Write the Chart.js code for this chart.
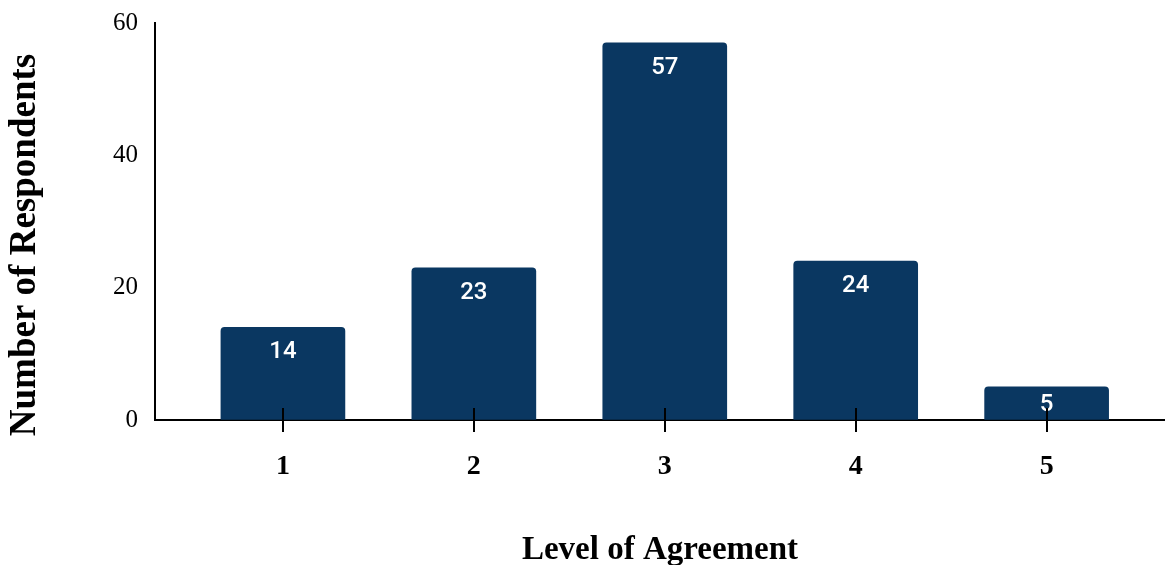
<!DOCTYPE html>
<html>
<head>
<meta charset="utf-8">
<script src="https://cdn.jsdelivr.net/npm/chart.js@4/dist/chart.umd.min.js"></script>
<style>
	html, body { margin: 0; padding: 0; background: white; }
	#wrap { width: 1165px; height: 565px; position: relative; }
</style>
</head>
<body>
<div id="wrap"><canvas id="myChart"></canvas></div>
<script>
// DATA
// ================================================================
var levels = [1, 2, 3, 4, 5];
var respondents = [14, 23, 57, 24, 5];
var yTicks = [0, 20, 40, 60];

var xTitle = 'Level of Agreement';
var yTitle = 'Number of Respondents';
var barColor = '#0a3761';


// Plugins
// ================================================================
// white count printed inside the top of each bar
var barValues = {
	id: 'barValues',
	afterDatasetsDraw: function (chart) {
		var ctx = chart.ctx;
		var meta = chart.getDatasetMeta(0);
		ctx.save();
		ctx.fillStyle = 'white';
		ctx.font = '500 24px Roboto';
		ctx.textAlign = 'center';
		ctx.textBaseline = 'middle';
		meta.data.forEach(function (bar, i) {
			var y = Math.min(bar.y + 25, (bar.y + bar.base) / 2 + 2);
			ctx.fillText(respondents[i], bar.x, y);
		});
		ctx.restore();
	}
};

// tick marks that cross the x axis line
var crossTicks = {
	id: 'crossTicks',
	afterDatasetsDraw: function (chart) {
		var ctx = chart.ctx;
		var x = chart.scales.x;
		var base = chart.chartArea.bottom;
		ctx.save();
		ctx.strokeStyle = 'black';
		ctx.lineWidth = 2;
		levels.forEach(function (v) {
			var px = Math.round(x.getPixelForValue(v));
			ctx.beginPath();
			ctx.moveTo(px, base - 12);
			ctx.lineTo(px, base + 12);
			ctx.stroke();
		});
		ctx.restore();
	}
};

// rotated y title, sitting a bit lower than the axis centre
var yAxisTitle = {
	id: 'yAxisTitle',
	afterDraw: function (chart) {
		var ctx = chart.ctx;
		ctx.save();
		ctx.translate(25, 245);
		ctx.rotate(-Math.PI / 2);
		ctx.fillStyle = 'black';
		ctx.font = 'bold 37px "Liberation Serif"';
		ctx.textAlign = 'center';
		ctx.textBaseline = 'middle';
		ctx.fillText(yTitle, 0, 0);
		ctx.restore();
	}
};


// OPTIONS
// ================================================================
var options = {
	responsive: true,
	maintainAspectRatio: false,
	animation: false,
	layout: { padding: { top: 23, left: 0, right: 0, bottom: 0 } },
	plugins: {
		legend: { display: false },
		tooltip: { enabled: false }
	},

	scales: {
		x: {
			type: 'linear',
			offset: false,
			min: 0.33,
			max: 5.62,
			afterBuildTicks: function (axis) {
				axis.ticks = levels.map(function (v) { return { value: v }; });
			},
			afterFit: function (axis) { axis.height = 145; },
			ticks: {
				padding: 30,
				color: 'black',
				font: { family: 'Liberation Serif', weight: 'bold', size: 28 }
			},
			grid: { drawOnChartArea: false, drawTicks: false },
			border: { color: 'black', width: 2 },
			title: {
				display: true,
				text: xTitle,
				color: 'black',
				padding: 0,
				font: { family: 'Liberation Serif', weight: 'bold', size: 33, lineHeight: 0.9 }
			}
		},

		y: {
			min: 0,
			max: 60,
			afterBuildTicks: function (axis) {
				axis.ticks = yTicks.map(function (v) { return { value: v }; });
			},
			afterFit: function (axis) {
				axis.width = 155;
				axis.paddingTop = 0;
				axis.paddingBottom = 0;
			},
			ticks: {
				padding: 17,
				color: 'black',
				font: { family: 'Liberation Serif', size: 25 }
			},
			grid: { drawOnChartArea: false, drawTicks: false },
			border: { color: 'black', width: 2 }
		}
	}
};


// Create the chart
var ctx = document.getElementById('myChart').getContext('2d');
var Render = new Chart(ctx, {
	type: 'bar',
	data: {
		datasets: [{
			data: levels.map(function (v, i) { return { x: v, y: respondents[i] }; }),
			backgroundColor: barColor,
			barThickness: 124,
			borderRadius: { topLeft: 4, topRight: 4 },
			borderSkipped: 'bottom'
		}]
	},
	options: options,
	plugins: [barValues, crossTicks, yAxisTitle]
});
</script>
</body>
</html>
